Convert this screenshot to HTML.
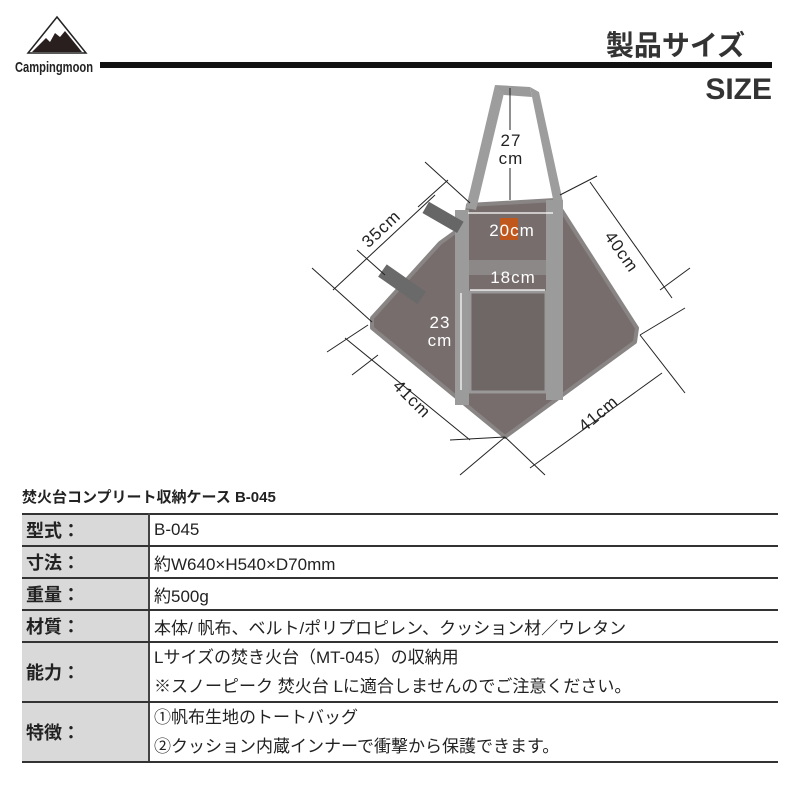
<!DOCTYPE html>
<html><head><meta charset="utf-8"><style>
body{margin:0;background:#fff;width:800px;height:800px;overflow:hidden;position:relative;font-family:"Liberation Sans","Noto Sans CJK JP",sans-serif;}
.abs{position:absolute;}
table{position:absolute;left:22px;top:513px;width:756px;border-collapse:collapse;font-size:17px;color:#222;}
td{border-top:2px solid #333;border-bottom:2px solid #333;padding:0 0 0 4px;vertical-align:middle;}
td.l{background:#d9d9d9;width:122px;font-weight:bold;font-size:18px;border-right:2px solid #444;}
</style></head><body>
<svg class="abs" style="left:0;top:0" width="800" height="480">
<polygon points="57,17 28,53 86,53" fill="#fff" stroke="#222" stroke-width="1.5"/>
<polygon points="32,52 46,38 50,42 55,33 60,37 65,31 82,52" fill="#2a1f1f"/>
<text x="15" y="72" font-family="Liberation Sans Narrow,Liberation Sans,sans-serif" font-weight="bold" font-size="15" fill="#222" textLength="78" lengthAdjust="spacingAndGlyphs">Campingmoon</text>
<rect x="100" y="62" width="672" height="6" fill="#111"/>
<text x="745" y="55" text-anchor="end" font-family="Liberation Sans,Noto Sans CJK JP,sans-serif" font-weight="bold" font-size="28" fill="#333">製品サイズ</text>
<text x="772" y="99" text-anchor="end" font-weight="bold" font-size="30" fill="#333">SIZE</text>
<polygon points="468,205 555,200 637,328 635,342 505,437 372,328 372,318 440,243 465,225" fill="#776d6d" stroke="#8a8585" stroke-width="4" stroke-linejoin="round"/>
<rect x="470" y="292" width="76" height="100" fill="#6f6666" stroke="#9a9898" stroke-width="3"/>
<rect x="468" y="260" width="80" height="15" fill="#8c8888"/>
<polygon points="495,85 530,87 532,97 504,95" fill="#9a9a9a"/>
<polygon points="495,85 504,93 476,210 466,208" fill="#9d9d9d"/>
<polygon points="530,87 539,92 563,202 554,204" fill="#9d9d9d"/>
<rect x="455" y="210" width="14" height="195" fill="#9b9b9b"/>
<rect x="546" y="200" width="17" height="200" fill="#9b9b9b"/>
<g transform="translate(445,218) rotate(30)"><rect x="-22" y="-6" width="40" height="13" fill="#666"/></g>
<g transform="translate(404,285) rotate(35)"><rect x="-26" y="-7" width="48" height="15" fill="#6a6a6a"/></g>
<g stroke="#222" stroke-width="1" fill="none">
<line x1="510" y1="88" x2="510" y2="200"/>
<line x1="425" y1="162" x2="470" y2="203"/>
<line x1="418" y1="207" x2="448" y2="180"/>
<line x1="333" y1="290" x2="435" y2="195"/>
<line x1="312" y1="268" x2="372" y2="322"/>
<line x1="357" y1="250" x2="385" y2="275"/>
<line x1="560" y1="195" x2="597" y2="176"/>
<line x1="590" y1="182" x2="672" y2="298"/>
<line x1="660" y1="290" x2="690" y2="268"/>
<line x1="640" y1="335" x2="685" y2="308"/>
<line x1="327" y1="352" x2="368" y2="325"/>
<line x1="345" y1="338" x2="470" y2="440"/>
<line x1="378" y1="355" x2="352" y2="375"/>
<line x1="450" y1="440" x2="505" y2="437"/>
<line x1="505" y1="437" x2="460" y2="475"/>
<line x1="505" y1="437" x2="545" y2="475"/>
<line x1="530" y1="468" x2="662" y2="373"/>
<line x1="640" y1="335" x2="685" y2="393"/>
</g>
<g stroke="#fff" stroke-width="1.2">
<line x1="468" y1="213" x2="553" y2="213"/>
<line x1="470" y1="290" x2="545" y2="290"/>
<line x1="461" y1="293" x2="461" y2="390"/>
</g>
<rect x="500" y="218" width="18" height="22" fill="#c0581e"/>
<rect x="496" y="130" width="30" height="38" fill="#fff"/>
<g font-size="17" fill="#222" text-anchor="middle" letter-spacing="1">
<text x="511" y="146">27</text><text x="511" y="164">cm</text>
<text transform="translate(385,233) rotate(-43)">35cm</text>
<text transform="translate(617,255) rotate(55)">40cm</text>
<text transform="translate(408,403) rotate(45)">41cm</text>
<text transform="translate(602,418) rotate(-40)">41cm</text>
</g>
<g font-size="17" fill="#fff" text-anchor="middle" letter-spacing="1">
<text x="512" y="236">20cm</text>
<text x="513" y="283">18cm</text>
<text x="440" y="328">23</text><text x="440" y="346">cm</text>
</g>
</svg>
<div class="abs" style="left:22px;top:486px;font-size:15px;font-weight:bold;color:#222;">焚火台コンプリート収納ケース B-045</div>
<table>
<tr style="height:32px"><td class="l">型式：</td><td>B-045</td></tr>
<tr style="height:32px"><td class="l">寸法：</td><td>約W640×H540×D70mm</td></tr>
<tr style="height:32px"><td class="l">重量：</td><td>約500g</td></tr>
<tr style="height:32px"><td class="l">材質：</td><td>本体/ 帆布、ベルト/ポリプロピレン、クッション材／ウレタン</td></tr>
<tr style="height:59px"><td class="l">能力：</td><td style="line-height:29px">Lサイズの焚き火台（MT-045）の収納用<br>※スノーピーク 焚火台 Lに適合しませんのでご注意ください。</td></tr>
<tr style="height:59px"><td class="l">特徴：</td><td style="line-height:29px">①帆布生地のトートバッグ<br>②クッション内蔵インナーで衝撃から保護できます。</td></tr>
</table>
</body></html>
